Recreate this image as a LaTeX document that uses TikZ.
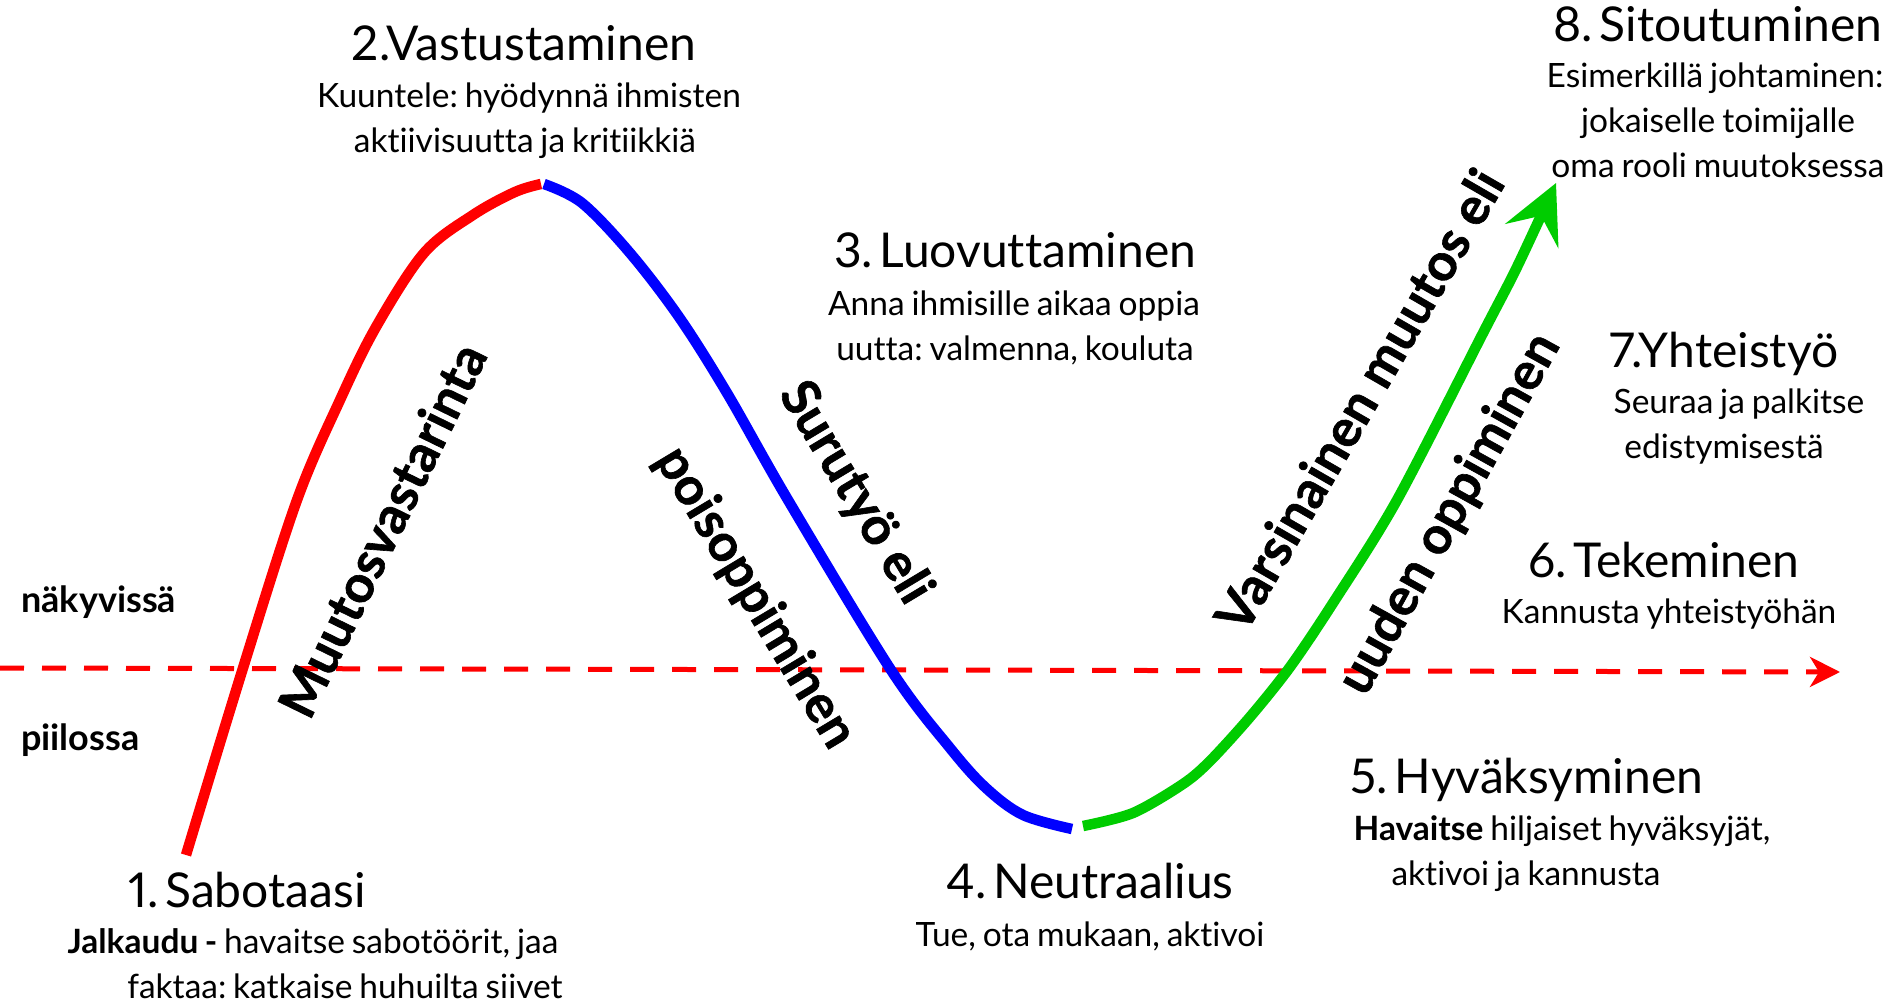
\documentclass[tikz,border=0pt]{standalone}
\usepackage{fontspec}
\setmainfont{Lato}[Ligatures=NoCommon, WordSpace=0.8, Numbers=Proportional]
\newfontfamily\phasefont{Lato}[Ligatures=NoCommon, BoldFeatures={FakeBold=1.2}]
\usetikzlibrary{arrows.meta}
\definecolor{curvered}{RGB}{255,0,0}
\definecolor{curveblue}{RGB}{0,0,255}
\definecolor{curvegreen}{RGB}{0,204,0}
\frenchspacing
% headings use a tighter word space
\newcommand\titlefont{\fontsize{48}{52}\selectfont\spaceskip=0.14em plus 0.05em\relax}
\tikzset{
  stagetitle/.style={anchor=base, inner sep=0pt, font={\titlefont}},
  stagetext/.style={anchor=base, inner sep=0pt, font=\fontsize{33.5}{38}\selectfont},
  sidelabel/.style={anchor=base west, inner sep=0pt, font=\fontsize{36}{40}\selectfont\bfseries},
  phaselabel/.style={inner sep=0pt, font=\phasefont\fontsize{52}{56}\selectfont\bfseries},
  phase/.style={line width=10.5pt, line cap=butt, line join=round},
}
\begin{document}
\begin{tikzpicture}[x=1pt, y=-1pt]
\useasboundingbox (0,0) rectangle (1903,1003);

% visible / hidden threshold
\coordinate (axisL) at (0,668);
\coordinate (axisR) at (1840,672);
\draw[curvered, line width=5pt, dash pattern=on 24pt off 18pt,
      -{Stealth[length=30pt, width=30pt, inset=9pt]}] (axisL) -- (axisR);

% the change curve
\draw[phase, curvered] plot[smooth, tension=0.55] coordinates {
  (186,855) (243,668) (297,500) (340,400) (376,327) (424,253) (473,215) (515,192) (541,184)};
\draw[phase, curveblue] plot[smooth, tension=0.55] coordinates {
  (544,184) (582,203) (630,253) (679,317) (727,393) (788,500) (891,670) (950,748) (986,788) (1023,815) (1072,829)};
\draw[phase, curvegreen, -{Stealth[length=58pt, width=58pt, inset=22pt]}]
  plot[smooth, tension=0.5] coordinates {
  (1083,826) (1133,813) (1183,784) (1210,761) (1250,717) (1290,667) (1333,603) (1397,500) (1483,333) (1517,267) (1556,183)};

% phase names along the curve
\node[phaselabel, rotate=64]  (pMuutos) at (382,530) {Muutosvastarinta};
\node[phaselabel, rotate=-59] (pSuru)   at (855,493) {Surutyö eli};
\node[phaselabel, rotate=-59] (pPois)   at (755,598) {poisoppiminen};
\node[phaselabel, rotate=60]  (pVars)   at (1359,400) {Varsinainen muutos eli};
\node[phaselabel, rotate=61]  (pUuden)  at (1450,514) {uuden oppiminen};

% side labels
\node[sidelabel] (nak) at (21,612) {näkyvissä};
\node[sidelabel] (pii) at (21,750) {piilossa};

% 1
\node[stagetitle] (s1)  at (247,907) {1. Sabotaasi};
\node[stagetext]  (s1a) at (313,953) {\textbf{Jalkaudu -} havaitse sabotöörit, jaa};
\node[stagetext]  (s1b) at (345,998) {faktaa: katkaise huhuilta siivet};
% 2
\node[stagetitle] (s2)  at (524,61) {2.Vastustaminen};
\node[stagetext]  (s2a) at (529,108) {Kuuntele: hyödynnä ihmisten};
\node[stagetext]  (s2b) at (525,153) {aktiivisuutta ja kritiikkiä};
% 3
\node[stagetitle] (s3)  at (1015,267) {3. Luovuttaminen};
\node[stagetext]  (s3a) at (1014,315) {Anna ihmisille aikaa oppia};
\node[stagetext]  (s3b) at (1015,360) {uutta: valmenna, kouluta};
% 4
\node[stagetitle] (s4)  at (1090,898) {4. Neutraalius};
\node[stagetext]  (s4a) at (1090,946) {Tue, ota mukaan, aktivoi};
% 5
\node[stagetitle] (s5)  at (1527,793) {5. Hyväksyminen};
\node[stagetext]  (s5a) at (1562,840) {\textbf{Havaitse} hiljaiset hyväksyjät,};
\node[stagetext]  (s5b) at (1526,885) {aktivoi ja kannusta};
% 6
\node[stagetitle] (s6)  at (1664,577) {6. Tekeminen};
\node[stagetext]  (s6a) at (1669,623) {Kannusta yhteistyöhän};
% 7
\node[stagetitle] (s7)  at (1724,367) {7.Yhteistyö};
\node[stagetext]  (s7a) at (1739,413) {Seuraa ja palkitse};
\node[stagetext]  (s7b) at (1724,458) {edistymisestä};
% 8
\node[stagetitle] (s8)  at (1718,42) {8. Sitoutuminen};
\node[stagetext]  (s8a) at (1715,88) {Esimerkillä johtaminen:};
\node[stagetext]  (s8b) at (1718,133) {jokaiselle toimijalle};
\node[stagetext]  (s8c) at (1718,178) {oma rooli muutoksessa};
\end{tikzpicture}
\end{document}
